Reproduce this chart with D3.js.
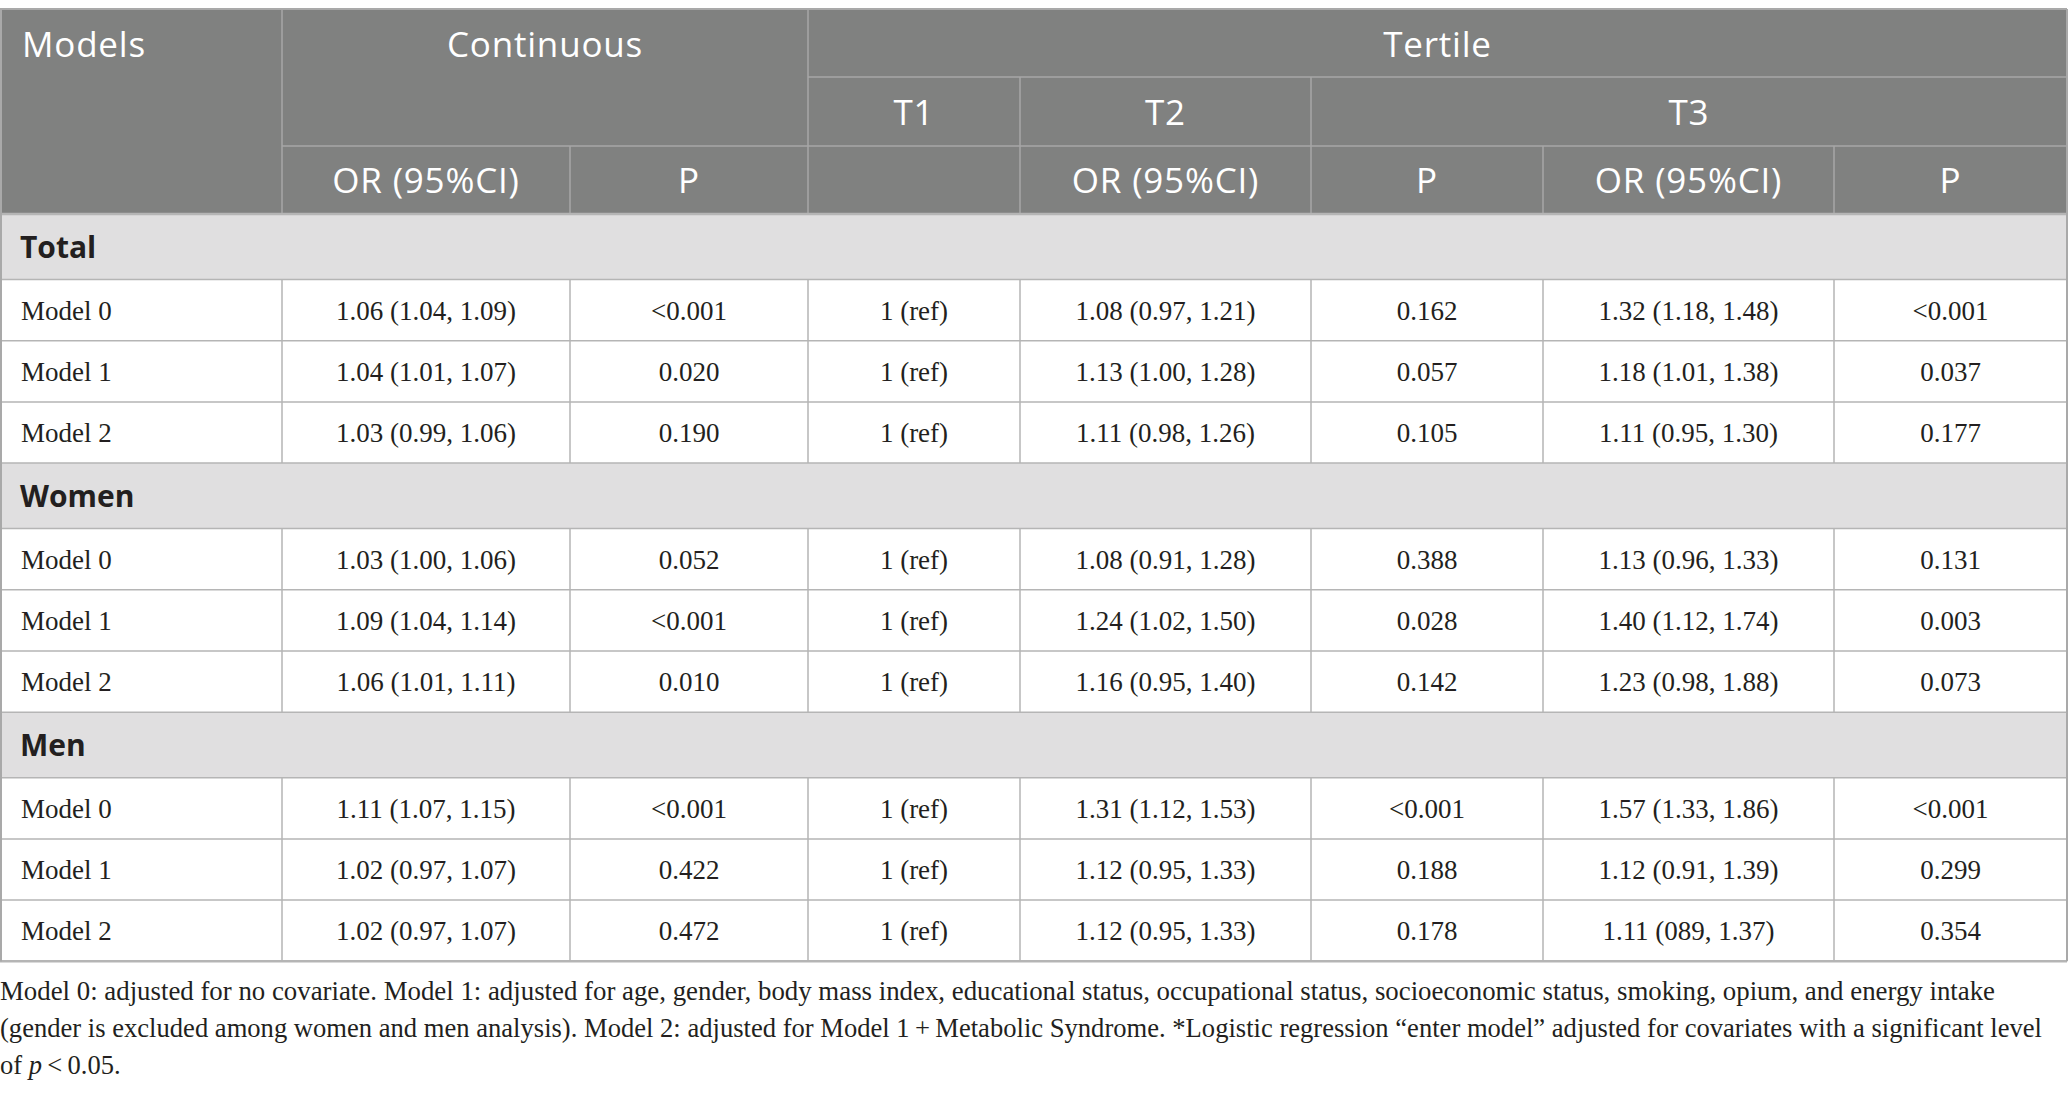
<!DOCTYPE html>
<html>
<head>
<meta charset="utf-8">
<script src="https://cdn.jsdelivr.net/npm/d3@7"></script>
<style>
  html, body { margin: 0; padding: 0; background: #ffffff; }
  svg { display: block; }
</style>
</head>
<body>
<div id="chart"></div>
<script>
// ---------------- data ----------------
const groups = ["Total", "Women", "Men"];
const models = ["Model 0", "Model 1", "Model 2"];
const contOR = [
  "1.06 (1.04, 1.09)", "1.04 (1.01, 1.07)", "1.03 (0.99, 1.06)",
  "1.03 (1.00, 1.06)", "1.09 (1.04, 1.14)", "1.06 (1.01, 1.11)",
  "1.11 (1.07, 1.15)", "1.02 (0.97, 1.07)", "1.02 (0.97, 1.07)"
];
const contP = ["<0.001", "0.020", "0.190", "0.052", "<0.001", "0.010", "<0.001", "0.422", "0.472"];
const t1Ref = ["1 (ref)", "1 (ref)", "1 (ref)", "1 (ref)", "1 (ref)", "1 (ref)", "1 (ref)", "1 (ref)", "1 (ref)"];
const t2OR = [
  "1.08 (0.97, 1.21)", "1.13 (1.00, 1.28)", "1.11 (0.98, 1.26)",
  "1.08 (0.91, 1.28)", "1.24 (1.02, 1.50)", "1.16 (0.95, 1.40)",
  "1.31 (1.12, 1.53)", "1.12 (0.95, 1.33)", "1.12 (0.95, 1.33)"
];
const t2P = ["0.162", "0.057", "0.105", "0.388", "0.028", "0.142", "<0.001", "0.188", "0.178"];
const t3OR = [
  "1.32 (1.18, 1.48)", "1.18 (1.01, 1.38)", "1.11 (0.95, 1.30)",
  "1.13 (0.96, 1.33)", "1.40 (1.12, 1.74)", "1.23 (0.98, 1.88)",
  "1.57 (1.33, 1.86)", "1.12 (0.91, 1.39)", "1.11 (089, 1.37)"
];
const t3P = ["<0.001", "0.037", "0.177", "0.131", "0.003", "0.073", "<0.001", "0.299", "0.354"];

const headerTop = [
  { text: "Models", c0: 0, c1: 1, r: 0, align: "left" },
  { text: "Continuous", c0: 1, c1: 3, r: 0 },
  { text: "Tertile", c0: 3, c1: 8, r: 0 }
];
const headerMid = [
  { text: "T1", c0: 3, c1: 4, r: 1 },
  { text: "T2", c0: 4, c1: 5, r: 1 },
  { text: "T3", c0: 5, c1: 8, r: 1 }
];
const headerSub = ["OR (95%CI)", "P", "", "OR (95%CI)", "P", "OR (95%CI)", "P"];

const footnoteLines = [
  "Model 0: adjusted for no covariate. Model 1: adjusted for age, gender, body mass index, educational status, occupational status, socioeconomic status, smoking, opium, and energy intake",
  "(gender is excluded among women and men analysis). Model 2: adjusted for Model 1\u2009+\u2009Metabolic Syndrome. *Logistic regression \u201Center model\u201D adjusted for covariates with a significant level"
];

// ---------------- layout ----------------
const W = 2068, H = 1093;
const colEdges = [0, 282, 570, 808, 1020, 1311, 1543, 1834, 2067];
const x = d3.scaleLinear().domain(d3.range(colEdges.length)).range(colEdges);
const headerEdges = [9, 77, 146, 214];
const yh = d3.scaleLinear().domain([0, 1, 2, 3]).range(headerEdges);

// body rows
const BAND_H = 65.5, ROW_H = 61.2;
const bodyRows = [];
groups.forEach((g, gi) => {
  bodyRows.push({ type: "band", label: g });
  models.forEach((m, mi) => {
    const k = gi * 3 + mi;
    bodyRows.push({ type: "row", cells: [m, contOR[k], contP[k], t1Ref[k], t2OR[k], t2P[k], t3OR[k], t3P[k]] });
  });
});
const bodyEdges = [headerEdges[3]];
bodyRows.forEach(r => bodyEdges.push(bodyEdges[bodyEdges.length - 1] + (r.type === "band" ? BAND_H : ROW_H)));
const yb = d3.scaleLinear().domain(d3.range(bodyEdges.length)).range(bodyEdges);

const HEAD_BG = "#808180", BAND_BG = "#e0dfe0", HEAD_LINE = "#a7a7a7", BODY_LINE = "#b5b5b5", TXT = "#231f20";
const SERIF = "'Liberation Serif', 'Times New Roman', serif";
const SANS = "'Open Sans', 'Noto Sans', sans-serif";

const svg = d3.select("#chart").append("svg").attr("width", W).attr("height", H);

// header background
svg.append("rect").attr("x", x(0)).attr("y", yh(0)).attr("width", x(8) - x(0)).attr("height", yh(3) - yh(0)).attr("fill", HEAD_BG);

// band backgrounds
bodyRows.forEach((r, i) => {
  if (r.type === "band") {
    svg.append("rect").attr("x", x(0)).attr("y", yb(i)).attr("width", x(8) - x(0)).attr("height", yb(i + 1) - yb(i)).attr("fill", BAND_BG);
  }
});

// header lines
const hl = svg.append("g").attr("stroke", HEAD_LINE).attr("stroke-width", 1.5);
hl.append("line").attr("x1", x(3)).attr("x2", x(8)).attr("y1", yh(1)).attr("y2", yh(1));
hl.append("line").attr("x1", x(1)).attr("x2", x(8)).attr("y1", yh(2)).attr("y2", yh(2));
[1, 3].forEach(c => hl.append("line").attr("x1", x(c)).attr("x2", x(c)).attr("y1", yh(0)).attr("y2", yh(3)));
[4, 5].forEach(c => hl.append("line").attr("x1", x(c)).attr("x2", x(c)).attr("y1", yh(1)).attr("y2", yh(3)));
[2, 6, 7].forEach(c => hl.append("line").attr("x1", x(c)).attr("x2", x(c)).attr("y1", yh(2)).attr("y2", yh(3)));

// body lines
const bl = svg.append("g").attr("stroke", BODY_LINE).attr("stroke-width", 1.5);
bodyEdges.forEach((yy, i) => {
  bl.append("line").attr("x1", x(0)).attr("x2", x(8)).attr("y1", yy).attr("y2", yy)
    .attr("stroke-width", (i === 0 || i === bodyEdges.length - 1) ? 2.5 : 1.5);
});
bodyRows.forEach((r, i) => {
  if (r.type === "row") {
    d3.range(1, 8).forEach(c => bl.append("line").attr("x1", x(c)).attr("x2", x(c)).attr("y1", yb(i)).attr("y2", yb(i + 1)));
  }
});
// outer border
const ob = svg.append("g").attr("stroke", "#a9a9a9").attr("stroke-width", 2).attr("fill", "none");
ob.append("line").attr("x1", x(0) + 1).attr("x2", x(0) + 1).attr("y1", yh(0)).attr("y2", yb(bodyRows.length));
ob.append("line").attr("x1", x(8)).attr("x2", x(8)).attr("y1", yh(0)).attr("y2", yb(bodyRows.length));
ob.append("line").attr("x1", x(0)).attr("x2", x(8)).attr("y1", yh(0)).attr("y2", yh(0));

// header text
const ht = svg.append("g").attr("fill", "#ffffff").attr("font-family", SANS).attr("font-size", 35).attr("letter-spacing", 0.8);
[...headerTop, ...headerMid].forEach(h => {
  const cy = (yh(h.r) + yh(h.r + 1)) / 2;
  ht.append("text")
    .attr("x", h.align === "left" ? x(h.c0) + 22 : (x(h.c0) + x(h.c1)) / 2)
    .attr("y", cy + 13.5)
    .attr("text-anchor", h.align === "left" ? "start" : "middle")
    .text(h.text);
});
headerSub.forEach((t, i) => {
  const c = i + 1;
  ht.append("text").attr("x", (x(c) + x(c + 1)) / 2).attr("y", (yh(2) + yh(3)) / 2 + 13)
    .attr("text-anchor", "middle").text(t);
});

// body text
bodyRows.forEach((r, i) => {
  const cy = (yb(i) + yb(i + 1)) / 2;
  if (r.type === "band") {
    svg.append("text").attr("x", x(0) + 20).attr("y", cy + 11)
      .attr("font-family", SANS).attr("font-weight", 700).attr("font-size", 30)
      .attr("fill", TXT).text(r.label);
  } else {
    r.cells.forEach((t, c) => {
      svg.append("text")
        .attr("x", c === 0 ? x(0) + 21 : (x(c) + x(c + 1)) / 2)
        .attr("y", cy + 9.5)
        .attr("text-anchor", c === 0 ? "start" : "middle")
        .attr("font-family", SERIF).attr("font-size", 27).attr("fill", TXT)
        .text(t);
    });
  }
});

// footnote
const fy = [1000, 1037, 1074];
const fTarget = [1995, 2042];
const fn = svg.append("g").attr("font-family", SERIF).attr("font-size", 26.5).attr("fill", TXT);
footnoteLines.forEach((t, i) => {
  fn.append("text").attr("x", 0).attr("y", fy[i])
    .attr("textLength", fTarget[i]).attr("lengthAdjust", "spacingAndGlyphs").text(t);
});
const l3 = fn.append("text").attr("x", 0).attr("y", fy[2]);
l3.append("tspan").text("of ");
l3.append("tspan").attr("font-style", "italic").text("p");
l3.append("tspan").text("\u2009<\u20090.05.");
</script>
</body>
</html>
